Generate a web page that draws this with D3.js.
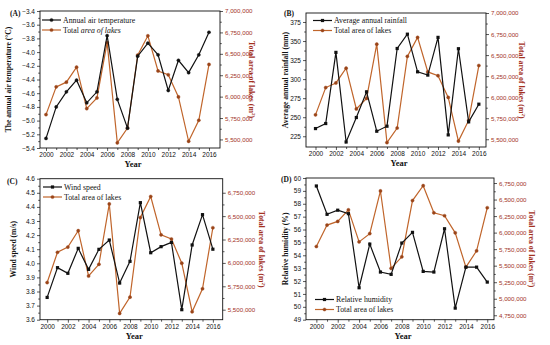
<!DOCTYPE html>
<html>
<head>
<meta charset="utf-8">
<script src="https://cdn.jsdelivr.net/npm/d3@7"></script>
<style>
  body { margin: 0; background: #fff; }
  svg { display: block; font-family: "Liberation Serif", "Times New Roman", serif; }
</style>
</head>
<body>
<div id="chart"></div>
<script>
// Data
const years = [2000, 2001, 2002, 2003, 2004, 2005, 2006, 2007, 2008, 2009, 2010, 2011, 2012, 2013, 2014, 2015, 2016];
const yearLabels = [2000, 2002, 2004, 2006, 2008, 2010, 2012, 2014, 2016];

const airTemp = [-5.26, -4.80, -4.58, -4.41, -4.74, -4.58, -3.76, -4.69, -5.11, -4.06, -3.87, -4.04, -4.56, -4.12, -4.30, -4.04, -3.71];
const rainfall = [235.1, 241.7, 335.1, 217.5, 249.6, 283.3, 231.6, 238.2, 340.2, 359.0, 309.6, 305.3, 354.8, 226.8, 339.9, 243.9, 267.1];
const windSpeed = [3.758, 3.969, 3.929, 4.106, 3.957, 4.099, 4.165, 3.86, 4.014, 4.43, 4.075, 4.118, 4.148, 3.671, 4.13, 4.345, 4.10];
const humidity = [59.38, 57.18, 57.5, 57.23, 51.48, 54.87, 52.7, 52.52, 54.95, 55.78, 52.75, 52.7, 56.06, 49.9, 53.08, 53.08, 51.92];
const lakeArea = [5790000, 6114000, 6169000, 6344000, 5860000, 5985000, 6630000, 5460000, 5634000, 6485000, 6710000, 6300000, 6255000, 5997000, 5478000, 5724000, 6376000];

const tempTicks = [-5.4, -5.2, -5.0, -4.8, -4.6, -4.4, -4.2, -4.0, -3.8, -3.6, -3.4];
const rainTicks = [225, 250, 275, 300, 325, 350, 375];
const windTicks = [3.6, 3.7, 3.8, 3.9, 4.0, 4.1, 4.2, 4.3, 4.4, 4.5, 4.6];
const humidTicks = [49, 50, 51, 52, 53, 54, 55, 56, 57, 58, 59, 60];
const lakeTicksABC = [5500000, 5750000, 6000000, 6250000, 6500000, 6750000, 7000000];
const lakeTicksC = [5500000, 5750000, 6000000, 6250000, 6500000, 6750000];
const lakeTicksD = [4750000, 5000000, 5250000, 5500000, 5750000, 6000000, 6250000, 6500000, 6750000];

const black = "#111";
const orange = "#c0652b";
const orangeDark = "#9a4418";
const redText = "#a3321f";

const width = 550;
const height = 345;

const svg = d3.select("#chart").append("svg")
    .attr("width", width)
    .attr("height", height)
    .attr("viewBox", [0, 0, width, height]);

const panels = [
  { tag: "(A)", tagPos: [10, 16], values: airTemp, name: "Annual air temperature", italicLegend: true,
    yTitle: "The annual air temperature (°C)", box: [40, 11, 220, 148],
    xDom: [1999.41, 2017.08], yDom: [-5.4, -3.4], yTicks: tempTicks, yFmt: d3.format(".1f"),
    rDom: [5400000, 7000000], rTicks: lakeTicksABC, marker: "circle",
    legend: [42, 20], yTitleX: 8, rTitleX: 252 },
  { tag: "(B)", tagPos: [284, 16], values: rainfall, name: "Average annual rainfall",
    yTitle: "Average annual rainfall (mm)", box: [306, 13, 486, 147],
    xDom: [1999.07, 2016.7], yDom: [210.9, 386.8], yTicks: rainTicks, yFmt: d3.format("d"),
    rDom: [5408000, 7000000], rTicks: lakeTicksABC, marker: "square",
    legend: [313, 20.5], yTitleX: 285, rTitleX: 522 },
  { tag: "(C)", tagPos: [7, 184], values: windSpeed, name: "Wind speed",
    yTitle: "Wind speed  (m/s)", box: [40, 178.7, 222.7, 319.7],
    xDom: [1999.31, 2016.95], yDom: [3.6, 4.6], yTicks: windTicks, yFmt: d3.format(".1f"),
    rDom: [5393000, 6900000], rTicks: lakeTicksC, marker: "square",
    legend: [43, 187], yTitleX: 13, rTitleX: 262 },
  { tag: "(D)", tagPos: [281, 182], values: humidity, name: "Relative humidity",
    yTitle: "Relative humidity (%)", box: [306, 178, 494, 319.7],
    xDom: [1999.03, 2016.63], yDom: [49, 60], yTicks: humidTicks, yFmt: d3.format("d"),
    rDom: [4683000, 6826000], rTicks: lakeTicksD, marker: "square",
    legend: [315, 299.5], yTitleX: 285, rTitleX: 532 }
];

function midpoints(ticks) {
  const out = [];
  for (let i = 0; i < ticks.length - 1; i++) out.push((ticks[i] + ticks[i + 1]) / 2);
  return out;
}

function drawMarkers(g, pts, shape, color, fill, size) {
  if (shape === "square") {
    g.selectAll(null).data(pts).join("rect")
        .attr("x", d => d[0] - size / 2)
        .attr("y", d => d[1] - size / 2)
        .attr("width", size)
        .attr("height", size)
        .attr("fill", fill);
  } else {
    g.selectAll(null).data(pts).join("circle")
        .attr("cx", d => d[0])
        .attr("cy", d => d[1])
        .attr("r", size / 2)
        .attr("fill", fill)
        .attr("stroke", color)
        .attr("stroke-width", 0.4);
  }
}

panels.forEach(p => {
  const [x0, y0, x1, y1] = p.box;
  const g = svg.append("g");

  const x = d3.scaleLinear().domain(p.xDom).range([x0, x1]);
  const y = d3.scaleLinear().domain(p.yDom).range([y1, y0]);
  const r = d3.scaleLinear().domain(p.rDom).range([y1, y0]);

  // x axis: labelled every 2 years, minor ticks on odd years
  g.append("g")
      .attr("transform", `translate(0,${y1})`)
      .call(d3.axisBottom(x).tickValues(yearLabels).tickFormat(d3.format("d")).tickSize(3).tickPadding(1.5).tickSizeOuter(0))
      .call(a => a.select(".domain").remove())
      .call(a => a.selectAll("text").attr("font-size", 6.5).attr("fill", "#111"));
  g.append("g")
      .attr("transform", `translate(0,${y1})`)
      .call(d3.axisBottom(x).tickValues(years.filter(d => d % 2)).tickFormat("").tickSize(2).tickSizeOuter(0))
      .call(a => a.select(".domain").remove());

  // left axis
  g.append("g")
      .attr("transform", `translate(${x0},0)`)
      .call(d3.axisLeft(y).tickValues(p.yTicks).tickFormat(p.yFmt).tickSize(3).tickPadding(2).tickSizeOuter(0))
      .call(a => a.select(".domain").remove())
      .call(a => a.selectAll("text").attr("font-size", 6.5).attr("fill", "#111"));
  g.append("g")
      .attr("transform", `translate(${x0},0)`)
      .call(d3.axisLeft(y).tickValues(midpoints(p.yTicks)).tickFormat("").tickSize(1.8).tickSizeOuter(0))
      .call(a => a.select(".domain").remove());

  // right axis
  g.append("g")
      .attr("transform", `translate(${x1},0)`)
      .call(d3.axisRight(r).tickValues(p.rTicks).tickFormat(d3.format(",")).tickSize(3).tickPadding(2).tickSizeOuter(0))
      .call(a => a.select(".domain").remove())
      .call(a => a.selectAll("text").attr("font-size", 6.2).attr("fill", redText));
  g.append("g")
      .attr("transform", `translate(${x1},0)`)
      .call(d3.axisRight(r).tickValues(midpoints(p.rTicks)).tickFormat("").tickSize(1.8).tickSizeOuter(0))
      .call(a => a.select(".domain").remove());

  g.selectAll(".tick line").attr("stroke", "#111").attr("stroke-width", 0.7);

  // frame
  g.append("rect")
      .attr("x", x0).attr("y", y0)
      .attr("width", x1 - x0).attr("height", y1 - y0)
      .attr("fill", "none").attr("stroke", "#111").attr("stroke-width", 0.9);

  // lake series
  const lakePts = years.map((yr, i) => [x(yr), r(lakeArea[i])]);
  g.append("path")
      .attr("d", d3.line()(lakePts))
      .attr("fill", "none").attr("stroke", orange).attr("stroke-width", 1.2);
  drawMarkers(g, lakePts, "circle", orangeDark, orangeDark, 3.2);

  // climate series
  const pts = years.map((yr, i) => [x(yr), y(p.values[i])]);
  g.append("path")
      .attr("d", d3.line()(pts))
      .attr("fill", "none").attr("stroke", black).attr("stroke-width", 1.2);
  drawMarkers(g, pts, p.marker, black, black, 3.2);

  // legend
  const [lx, ly] = p.legend;
  const leg = g.append("g").attr("font-size", 7.8).attr("fill", "#111");
  leg.append("line").attr("x1", lx).attr("x2", lx + 19).attr("y1", ly).attr("y2", ly)
      .attr("stroke", black).attr("stroke-width", 1.2);
  drawMarkers(leg, [[lx + 9.5, ly]], p.marker, black, black, 3.2);
  leg.append("text").attr("x", lx + 21).attr("y", ly).attr("dy", "0.33em").text(p.name);
  leg.append("line").attr("x1", lx).attr("x2", lx + 19).attr("y1", ly + 10).attr("y2", ly + 10)
      .attr("stroke", orange).attr("stroke-width", 1.2);
  drawMarkers(leg, [[lx + 9.5, ly + 10]], "circle", orangeDark, orangeDark, 3.2);
  const t2 = leg.append("text").attr("x", lx + 21).attr("y", ly + 10).attr("dy", "0.33em");
  if (p.italicLegend) {
    t2.append("tspan").text("Total ");
    t2.append("tspan").attr("font-style", "italic").text("area of lakes");
  } else {
    t2.text("Total area of lakes");
  }

  // panel tag
  g.append("text").attr("x", p.tagPos[0]).attr("y", p.tagPos[1])
      .attr("font-size", 7.5).attr("font-weight", "bold").attr("fill", "#111").text(p.tag);

  // axis titles
  g.append("text")
      .attr("transform", `translate(${p.yTitleX},${(y0 + y1) / 2}) rotate(-90)`)
      .attr("text-anchor", "middle").attr("dy", "0.35em")
      .attr("font-size", 7.6).attr("font-weight", "bold").attr("fill", "#111")
      .text(p.yTitle);

  const rt = g.append("text")
      .attr("transform", `translate(${p.rTitleX},${(y0 + y1) / 2}) rotate(90)`)
      .attr("text-anchor", "middle").attr("dy", "0.35em")
      .attr("font-size", 7.8).attr("font-weight", "bold").attr("fill", redText);
  rt.append("tspan").text("Total area of lakes (m");
  rt.append("tspan").attr("font-size", 5).attr("dy", "-0.5em").text("2");
  rt.append("tspan").attr("dy", "0.3em").text(")");

  g.append("text")
      .attr("x", (x0 + x1) / 2 + 3).attr("y", y1 + 19)
      .attr("text-anchor", "middle")
      .attr("font-size", 8.5).attr("font-weight", "bold").attr("fill", "#111")
      .text("Year");
});
</script>
</body>
</html>
